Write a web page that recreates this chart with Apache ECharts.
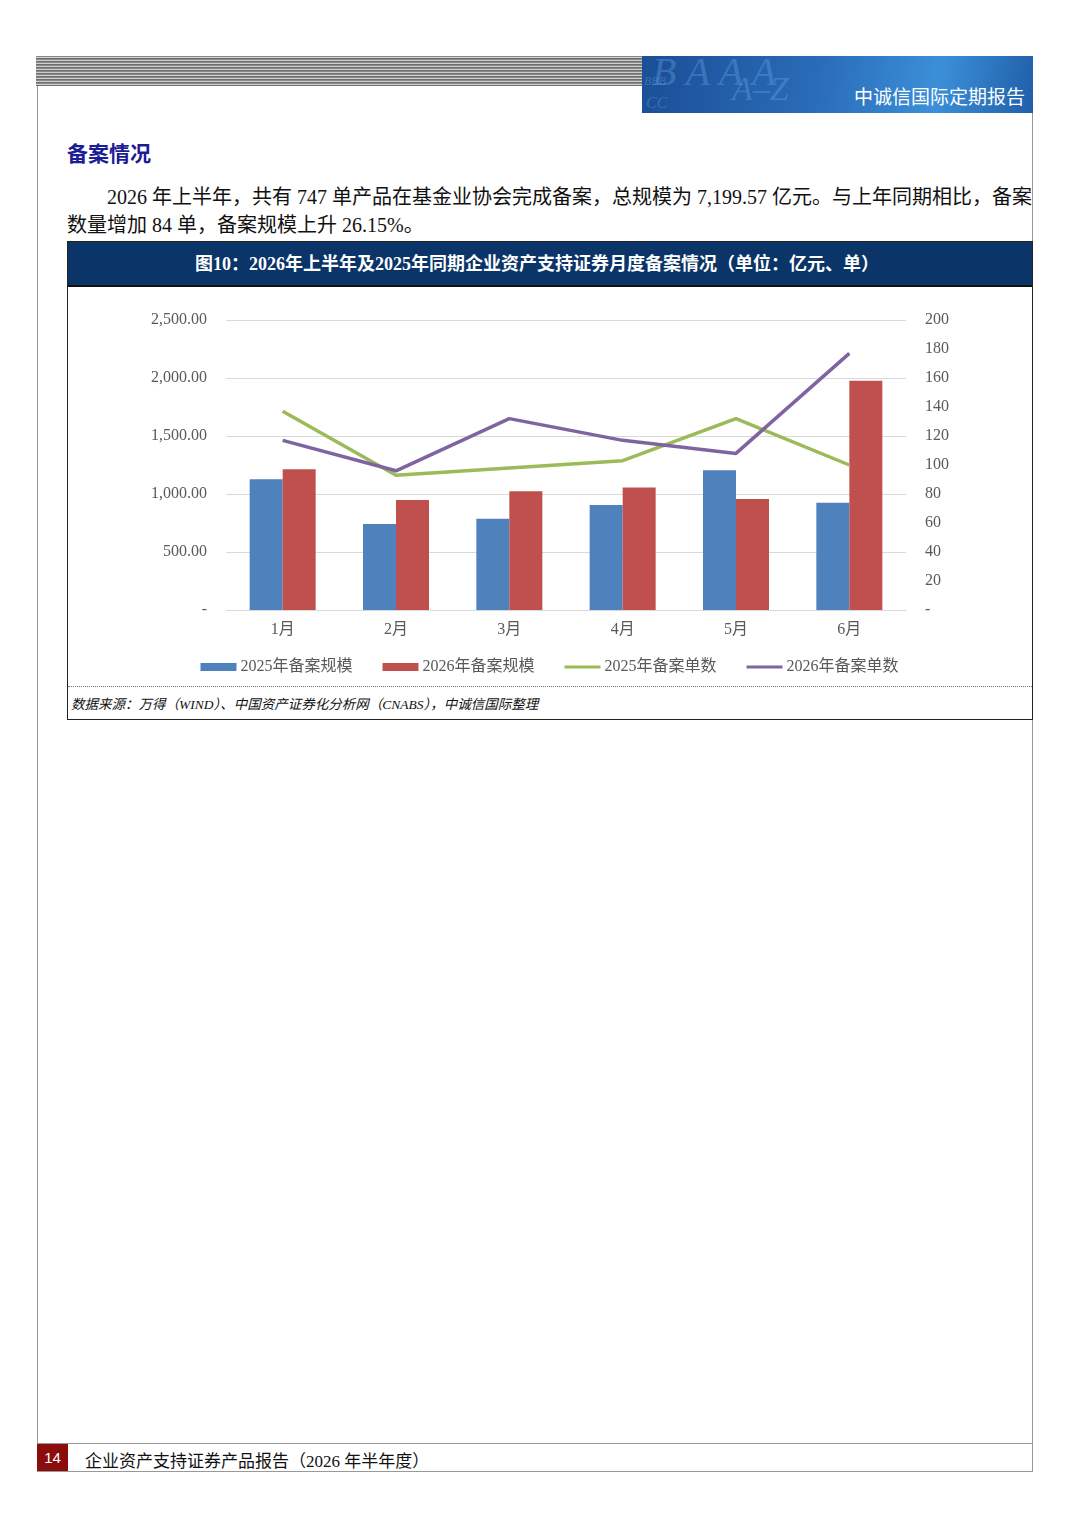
<!DOCTYPE html>
<html>
<head>
<meta charset="utf-8">
<script src="https://cdn.jsdelivr.net/npm/echarts@6/dist/echarts.min.js"></script>
<style>
  body { margin: 0; background: #fff; width: 1080px; height: 1528px; position: relative; overflow: hidden;
         font-family: "Liberation Serif", "Noto Sans CJK SC", serif; }
  .abs { position: absolute; }
  #stripe { left: 36px; top: 56px; width: 606px; height: 30px;
            background: repeating-linear-gradient(to bottom, #8a8a8a 0px, #8a8a8a 1px, #cfcfcf 1px, #cfcfcf 2px, #6f6f6f 2px, #6f6f6f 3px); }
  #banner { left: 642px; top: 56px; width: 391px; height: 57px; overflow: hidden;
            background: linear-gradient(100deg, #1b4e96 0%, #2a6cb8 45%, #3b8fd8 75%, #1f5fa8 100%); }
  #banner .deco { position: absolute; color: rgba(110,170,235,0.35); font-family: "Liberation Serif", serif; font-style: italic; }
  #banner .name { position: absolute; right: 8px; top: 26px; color: #fff; font-size: 19px;
                  font-family: "Noto Sans CJK SC", sans-serif; }
  #lline { left: 37px; top: 86px; width: 1px; height: 1385px; background: #999; }
  #rline { left: 1032px; top: 113px; width: 1px; height: 1358px; background: #999; }
  #h2 { left: 67px; top: 137px; font-size: 21px; font-weight: bold; color: #1c1c96;
        font-family: "Noto Sans CJK SC", sans-serif; }
  #para { left: 67px; top: 183px; font-size: 20px; line-height: 28px; color: #111; white-space: nowrap;
          text-indent: 40px;
          font-family: "Liberation Serif", "Noto Sans CJK SC", serif; }
  #box { left: 67px; top: 241px; width: 966px; height: 479px; border: 1px solid #222; box-sizing: border-box; }
  #titlebar { left: 68px; top: 242px; width: 964px; height: 45px; background: #0b3468;
              border-bottom: 2px solid #111; box-sizing: border-box; padding-right: 26px;
              color: #fff; font-size: 18px; font-weight: bold; text-align: center; line-height: 44px;
              font-family: "Liberation Serif", "Noto Sans CJK SC", serif; }
  #chart { left: 68px; top: 287px; width: 963px; height: 398px; }
  #dots { left: 68px; top: 686px; width: 964px; height: 0; border-top: 1px dotted #777; }
  #src { left: 71px; top: 693px; font-size: 13.5px; font-style: italic; color: #111;
         font-family: "Liberation Serif", "Noto Sans CJK SC", serif; }
  #fline1 { left: 37px; top: 1443px; width: 996px; height: 1px; background: #999; }
  #fline2 { left: 37px; top: 1471px; width: 996px; height: 1px; background: #999; }
  #pnum { left: 37px; top: 1444px; width: 31px; height: 27px; background: #8b0c0c; color: #fff;
          font-family: "Liberation Sans", sans-serif; font-size: 15px; line-height: 27px; text-align: center; }
  #ftxt { left: 85px; top: 1447px; font-size: 17px; color: #111;
          font-family: "Liberation Serif", "Noto Sans CJK SC", serif; }
</style>
</head>
<body>
<div class="abs" id="stripe"></div>
<div class="abs" id="banner">
  <span class="deco" style="left:10px;top:-8px;font-size:40px;">B A A A</span>
  <span class="deco" style="left:90px;top:14px;font-size:34px;">A–Z</span>
  <span class="deco" style="left:2px;top:18px;font-size:12px;">BBB</span>
  <span class="deco" style="left:4px;top:38px;font-size:16px;">CC</span>
  <span class="name">中诚信国际定期报告</span>
</div>
<div class="abs" id="lline"></div>
<div class="abs" id="rline"></div>
<div class="abs" id="h2">备案情况</div>
<div class="abs" id="para">2026 年上半年，共有 747 单产品在基金业协会完成备案，总规模为 7,199.57 亿元。与上年同期相比，备案<br>数量增加 84 单，备案规模上升 26.15%。</div>
<div class="abs" id="box"></div>
<div class="abs" id="titlebar">图10：2026年上半年及2025年同期企业资产支持证券月度备案情况（单位：亿元、单）</div>
<div class="abs" id="chart"></div>
<div class="abs" id="dots"></div>
<div class="abs" id="src">数据来源：万得（WIND）、中国资产证券化分析网（CNABS），中诚信国际整理</div>
<div class="abs" id="fline1"></div>
<div class="abs" id="fline2"></div>
<div class="abs" id="pnum">14</div>
<div class="abs" id="ftxt">企业资产支持证券产品报告（2026 年半年度）</div>

<script>
// 月份
var months = ['1月', '2月', '3月', '4月', '5月', '6月'];
// 备案规模（亿元）
var scale2025 = [1127, 741, 787, 905, 1204, 925];
var scale2026 = [1213, 948, 1023, 1055, 957, 1977];
// 备案单数
var count2025 = [137, 93, 98, 103, 132, 100];
var count2026 = [117, 96, 132, 117, 108, 177];

var labelFont = '"Liberation Serif", "Noto Sans CJK SC", serif';
// 折线图例用细长条
var lineIcon = 'path://M0,0h36v3h-36z';

var chart = echarts.init(document.getElementById('chart'));
chart.setOption({
    animation: false,
    textStyle: { fontFamily: labelFont },
    color: ['#4f81bd', '#c0504d', '#9bbb59', '#8064a2'],
    grid: { left: 158, right: 125, top: 33, height: 290 },
    legend: {
        top: 367,
        left: 'center',
        itemGap: 30,
        itemWidth: 36,
        itemHeight: 8,
        textStyle: { color: '#595959', fontSize: 16, fontFamily: labelFont, padding: [0, 0, 0, -1] },
        data: [
            { name: '2025年备案规模', icon: 'rect' },
            { name: '2026年备案规模', icon: 'rect' },
            { name: '2025年备案单数', icon: lineIcon },
            { name: '2026年备案单数', icon: lineIcon }
        ]
    },
    xAxis: {
        type: 'category',
        data: months,
        axisLine: { lineStyle: { color: '#d9d9d9' } },
        axisTick: { show: false },
        axisLabel: { color: '#595959', fontSize: 16, margin: 12 }
    },
    yAxis: [
        {
            type: 'value', min: 0, max: 2500, interval: 500,
            axisLine: { show: false }, axisTick: { show: false },
            splitLine: { lineStyle: { color: '#d9d9d9' } },
            axisLabel: {
                color: '#595959', fontSize: 16, margin: 19,
                formatter: function (v) {
                    return v === 0 ? '-' : v.toLocaleString('en-US', { minimumFractionDigits: 2 });
                }
            }
        },
        {
            type: 'value', min: 0, max: 200, interval: 20,
            axisLine: { show: false }, axisTick: { show: false },
            splitLine: { show: false },
            axisLabel: {
                color: '#595959', fontSize: 16, margin: 19,
                formatter: function (v) { return v === 0 ? '-' : v; }
            }
        }
    ],
    series: [
        { name: '2025年备案规模', type: 'bar', data: scale2025, barWidth: 33, barGap: '0%' },
        { name: '2026年备案规模', type: 'bar', data: scale2026, barWidth: 33, barGap: '0%' },
        { name: '2025年备案单数', type: 'line', yAxisIndex: 1, data: count2025,
          symbol: 'none', lineStyle: { width: 3.5 } },
        { name: '2026年备案单数', type: 'line', yAxisIndex: 1, data: count2026,
          symbol: 'none', lineStyle: { width: 3.5 } }
    ]
});
</script>
</body>
</html>
